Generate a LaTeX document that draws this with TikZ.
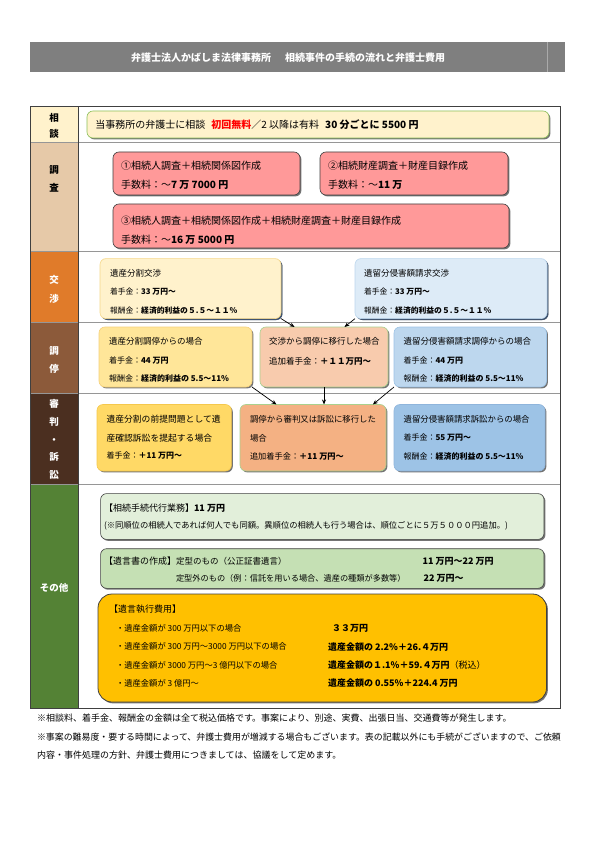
\documentclass[tikz,border=0pt]{standalone}
\usepackage{fontspec}
\setmainfont{Noto Sans CJK JP}
\usetikzlibrary{shadows,calc,arrows.meta}
\newcommand{\fsz}[1]{\fontsize{#1}{#1}\selectfont}
\definecolor{hdr}{RGB}{127,127,127}
\definecolor{hdrline}{RGB}{170,170,170}
\definecolor{cSodan}{RGB}{255,242,204}
\definecolor{cChosa}{RGB}{230,201,168}
\definecolor{cKosho}{RGB}{224,123,42}
\definecolor{cChotei}{RGB}{140,90,58}
\definecolor{cShinpan}{RGB}{75,47,32}
\definecolor{cSonota}{RGB}{84,130,53}
\definecolor{rowline}{RGB}{150,150,150}
\definecolor{tborder}{RGB}{64,64,64}
\definecolor{pinkF}{RGB}{255,153,153}
\definecolor{greenB}{RGB}{140,192,90}
\definecolor{ylw1}{RGB}{255,242,204}
\definecolor{ylw1B}{RGB}{246,216,138}
\definecolor{blu1}{RGB}{221,235,247}
\definecolor{blu1B}{RGB}{189,215,238}
\definecolor{ylw2}{RGB}{255,230,153}
\definecolor{ylw2B}{RGB}{245,208,122}
\definecolor{pch2}{RGB}{248,203,173}
\definecolor{grn2B}{RGB}{169,209,142}
\definecolor{blu2}{RGB}{189,215,238}
\definecolor{blu2B}{RGB}{157,195,230}
\definecolor{ylw3}{RGB}{255,217,102}
\definecolor{ylw3B}{RGB}{245,200,76}
\definecolor{sal3}{RGB}{244,177,131}
\definecolor{blu3}{RGB}{157,195,230}
\definecolor{blu3B}{RGB}{143,181,220}
\definecolor{oth1}{RGB}{226,239,218}
\definecolor{oth2}{RGB}{197,224,180}
\definecolor{oth3}{RGB}{255,192,0}
\definecolor{shd}{RGB}{70,70,70}
\definecolor{shdb}{RGB}{50,75,110}
\tikzset{
  rbox/.style={rounded corners=6pt, inner sep=0pt, outer sep=0pt, anchor=north west, line width=0.6pt,
    drop shadow={shadow xshift=1.4pt, shadow yshift=-1.4pt, fill=shd, opacity=0.75}},
  rboxb/.style={rbox, drop shadow={shadow xshift=1.4pt, shadow yshift=-1.4pt, fill=shdb, opacity=0.8}},
  txt/.style={anchor=west, inner sep=0pt, outer sep=0pt, text=black},
  lbl/.style={align=center, inner sep=0pt, font=\bfseries},
  arr/.style={-{Stealth[length=5pt,width=4pt]}, line width=0.7pt},
}
\begin{document}
\begin{tikzpicture}[x=1pt,y=-1pt]
\useasboundingbox (0,0) rectangle (596,842);
\fill[white] (0,0) rectangle (596,842);
% header
\fill[hdr] (30,42) rectangle (565,72.5);
\draw[hdrline, line width=0.6pt] (547.6,42) -- (547.6,72.5);
\node[inner sep=0pt, text=white, font=\bfseries\fsz{10}] (title) at (288,57.5) {弁護士法人かばしま法律事務所\hspace{14pt}相続事件の手続の流れと弁護士費用};
% table
\fill[cSodan] (30,106.7) rectangle (78,142.7);
\fill[cChosa] (30,142.7) rectangle (78,251);
\fill[cKosho] (30,251) rectangle (78,322.7);
\fill[cChotei] (30,322.7) rectangle (78,393);
\fill[cShinpan] (30,393) rectangle (78,484);
\fill[cSonota] (30,484) rectangle (78,708);
\foreach \yy in {142.7,251,322.7,393,484} \draw[rowline, line width=0.9pt] (30,\yy) -- (560,\yy);
\draw[tborder, line width=0.9pt] (30,106.7) rectangle (560,708);
\draw[tborder, line width=0.9pt] (78,106.7) -- (78,708);
% labels
\node[lbl, font=\bfseries\fontsize{9.5}{16.6}\selectfont] (Lsodan) at (54,126) {相\\談};
\node[lbl, font=\bfseries\fontsize{9.5}{18.3}\selectfont] (Lchosa) at (54,179.2) {調\\査};
\node[lbl, text=white, font=\bfseries\fontsize{9.5}{18.6}\selectfont] (Lkosho) at (54,289.6) {交\\渉};
\node[lbl, text=white, font=\bfseries\fontsize{9.5}{18.3}\selectfont] (Lchotei) at (54,359.9) {調\\停};
\node[lbl, text=white, font=\bfseries\fontsize{9.5}{17.75}\selectfont] (Lshinpan) at (54,439.5) {審\\判\\・\\訴\\訟};
\node[lbl, text=white, font=\bfseries\fsz{9.5}] (Lsonota) at (54,587.6) {その他};
% boxes
\node[rbox, fill=cSodan, draw=greenB, minimum width=462pt, minimum height=27pt] (sodan) at (87,111) {};
\node[rbox, fill=pinkF, draw=tborder, minimum width=187pt, minimum height=43pt] (c1) at (113,152) {};
\node[rbox, fill=pinkF, draw=tborder, minimum width=188pt, minimum height=43pt] (c2) at (320,152) {};
\node[rbox, fill=pinkF, draw=tborder, minimum width=396pt, minimum height=44pt] (c3) at (113,204) {};
\node[rboxb, fill=ylw1, draw=ylw1B, minimum width=181pt, minimum height=60pt] (kL) at (100,258.6) {};
\node[rboxb, fill=blu1, draw=blu1B, minimum width=192pt, minimum height=60pt] (kR) at (355,258.6) {};
\node[rbox, fill=ylw2, draw=ylw2B, minimum width=153pt, minimum height=60pt] (tL) at (99,327) {};
\node[rbox, fill=pch2, draw=grn2B, minimum width=128pt, minimum height=60pt] (tM) at (260,327) {};
\node[rbox, fill=blu2, draw=blu2B, minimum width=152.5pt, minimum height=60pt] (tR) at (394,327) {};
\node[rbox, fill=ylw3, draw=ylw3B, minimum width=134.4pt, minimum height=66.5pt] (sL) at (97,404.5) {};
\node[rbox, fill=sal3, draw=grn2B, minimum width=146pt, minimum height=66.5pt] (sM) at (240,404.5) {};
\node[rbox, fill=blu3, draw=blu3B, minimum width=151pt, minimum height=66.5pt] (sR) at (394,404.5) {};
\node[rbox, fill=oth1, draw=tborder, minimum width=443.4pt, minimum height=45.8pt] (o1) at (100.6,493.6) {};
\node[rbox, fill=oth2, draw=tborder, minimum width=443.4pt, minimum height=39.6pt] (o2) at (100.6,548.7) {};
\node[rbox, rounded corners=14pt, fill=oth3, draw=tborder, line width=0.8pt, minimum width=448.5pt, minimum height=108pt] (o3) at (98,594) {};
% arrows
\draw[arr] (kL.south east) -- ($(tM.north west)!0.27!(tM.north east)$);
\draw[arr] (kR.south west) -- ($(tM.north west)!0.66!(tM.north east)$);
\draw[arr] (tL.south east) -- ($(sM.north west)!0.25!(sM.north east)$);
\draw[arr] (tM.south) -- (tM.south |- sM.north);
\draw[arr] (tR.south west) -- ($(sM.north west)!0.91!(sM.north east)$);
% texts: sodan
\node[txt, font=\fsz{10}] (sodanT) at (95.4,124.8) {当事務所の弁護士に相談\hspace{6pt}{\bfseries\color{red}初回無料}／2 以降は有料\hspace{6pt}{\bfseries 30 分ごとに 5500 円}};
% chosa
\node[txt, font=\fsz{10}] (c1a) at (121,165.4) {①相続人調査＋相続関係図作成};
\node[txt, font=\fsz{10}] (c1b) at (121,184.4) {手数料：～{\bfseries 7 万 7000 円}};
\node[txt, font=\fsz{10}] (c2a) at (328,165.4) {②相続財産調査＋財産目録作成};
\node[txt, font=\fsz{10}] (c2b) at (328,184.4) {手数料：～{\bfseries 11 万}};
\node[txt, font=\fsz{10}] (c3a) at (121,220.5) {③相続人調査＋相続関係図作成＋相続財産調査＋財産目録作成};
\node[txt, font=\fsz{10}] (c3b) at (121,239.5) {手数料：～{\bfseries 16 万 5000 円}};
% kosho
\node[txt, font=\fsz{8.5}] (kLa) at (110,273.4) {遺産分割交渉};
\node[txt, font=\fsz{7.8}] (kLb) at (110,292) {着手金：{\bfseries 33 万円～}};
\node[txt, font=\fsz{7.8}] (kLc) at (110,310.3) {報酬金：{\bfseries 経済的利益の５.５～１１％}};
\node[txt, font=\fsz{8.5}] (kRa) at (364,273.4) {遺留分侵害額請求交渉};
\node[txt, font=\fsz{7.8}] (kRb) at (364,292) {着手金：{\bfseries 33 万円～}};
\node[txt, font=\fsz{7.8}] (kRc) at (364,310.3) {報酬金：{\bfseries 経済的利益の５.５～１１％}};
% chotei
\node[txt, font=\fsz{8.5}] (tLa) at (109,341) {遺産分割調停からの場合};
\node[txt, font=\fsz{8}] (tLb) at (109,361) {着手金：{\bfseries 44 万円}};
\node[txt, font=\fsz{8}] (tLc) at (109,379) {報酬金：{\bfseries 経済的利益の 5.5～11\%}};
\node[txt, font=\fsz{8.5}] (tMa) at (269,341) {交渉から調停に移行した場合};
\node[txt, font=\fsz{8.5}] (tMb) at (269,361) {追加着手金：{\bfseries ＋１１万円～}};
\node[txt, font=\fsz{8.5}] (tRa) at (403.6,341) {遺留分侵害額請求調停からの場合};
\node[txt, font=\fsz{8}] (tRb) at (403.6,361) {着手金：{\bfseries 44 万円}};
\node[txt, font=\fsz{8}] (tRc) at (403.6,379) {報酬金：{\bfseries 経済的利益の 5.5～11\%}};
% shinpan
\node[txt, font=\fsz{8.8}] (sLa) at (106.5,419) {遺産分割の前提問題として遺};
\node[txt, font=\fsz{8.8}] (sLb) at (106.5,438) {産確認訴訟を提起する場合};
\node[txt, font=\fsz{8}] (sLc) at (106.5,456) {着手金：{\bfseries ＋11 万円～}};
\node[txt, font=\fsz{8.4}] (sMa) at (250,419) {調停から審判又は訴訟に移行した};
\node[txt, font=\fsz{8.4}] (sMb) at (250,438) {場合};
\node[txt, font=\fsz{8.2}] (sMc) at (250,456) {追加着手金：{\bfseries ＋11 万円～}};
\node[txt, font=\fsz{8.4}] (sRa) at (403.6,419) {遺留分侵害額請求訴訟からの場合};
\node[txt, font=\fsz{8}] (sRb) at (403.6,438) {着手金：{\bfseries 55 万円～}};
\node[txt, font=\fsz{8}] (sRc) at (403.6,456) {報酬金：{\bfseries 経済的利益の 5.5～11\%}};
% sonota
\node[txt, font=\fsz{9}] (o1a) at (104,508.4) {【相続手続代行業務】{\bfseries 11 万円}};
\node[txt, font=\fsz{8.3}] (o1b) at (104,526.3) {(※同順位の相続人であれば何人でも同額。異順位の相続人も行う場合は、順位ごとに５万５０００円追加。)};
\node[txt, font=\fsz{8.5}] (o2a) at (104,561.4) {{\fsz{9}【遺言書の作成】}定型のもの（公正証書遺言）};
\node[txt, font=\bfseries\fsz{9}] (o2b) at (422.6,561.4) {11 万円～22 万円};
\node[txt, font=\fsz{8.2}] (o2c) at (176,578.7) {定型外のもの（例：信託を用いる場合、遺産の種類が多数等）};
\node[txt, font=\bfseries\fsz{9}] (o2d) at (423.6,578.7) {22 万円～};
\node[txt, font=\fsz{9}] (o3a) at (109,609.6) {【遺言執行費用】};
\node[txt, font=\fsz{8.3}] (o3b) at (116,628.6) {・遺産金額が 300 万円以下の場合};
\node[txt, font=\fsz{8.3}] (o3c) at (116,646.8) {・遺産金額が 300 万円～3000 万円以下の場合};
\node[txt, font=\fsz{8.3}] (o3d) at (116,665) {・遺産金額が 3000 万円～3 億円以下の場合};
\node[txt, font=\fsz{8.3}] (o3e) at (116,683) {・遺産金額が 3 億円～};
\node[txt, font=\bfseries\fsz{9}] (o3f) at (332,628.6) {３３万円};
\node[txt, font=\bfseries\fsz{9}] (o3g) at (328,646.8) {遺産金額の 2.2\%＋26.４万円};
\node[txt, font=\fsz{9}] (o3h) at (328,665) {{\bfseries 遺産金額の１.1\%＋59.４万円}（税込）};
\node[txt, font=\bfseries\fsz{9}] (o3i) at (328,683) {遺産金額の 0.55\%＋224.4 万円};
% footer
\node[txt, font=\fsz{9}] (f1) at (37,718) {※相談料、着手金、報酬金の金額は全て税込価格です。事案により、別途、実費、出張日当、交通費等が発生します。};
\node[txt, font=\fsz{8.92}] (f2) at (37,737) {※事案の難易度・要する時間によって、弁護士費用が増減する場合もございます。表の記載以外にも手続がございますので、ご依頼};
\node[txt, font=\fsz{9}] (f3) at (37,755) {内容・事件処理の方針、弁護士費用につきましては、協議をして定めます。};
\end{tikzpicture}
\end{document}
